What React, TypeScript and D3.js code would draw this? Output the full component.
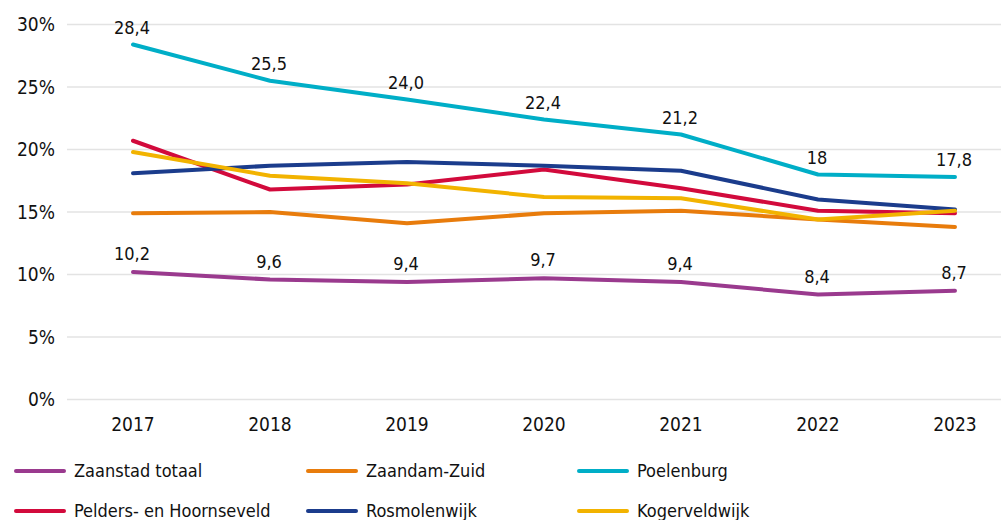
import { useEffect, useRef } from 'react';
import * as d3 from 'd3';

const years = ['2017', '2018', '2019', '2020', '2021', '2022', '2023'];

const zaanstadTotaal = [10.2, 9.6, 9.4, 9.7, 9.4, 8.4, 8.7];
const zaandamZuid = [14.9, 15.0, 14.1, 14.9, 15.1, 14.4, 13.8];
const poelenburg = [28.4, 25.5, 24.0, 22.4, 21.2, 18, 17.8];
const peldersHoornseveld = [20.7, 16.8, 17.2, 18.4, 16.9, 15.1, 14.9];
const rosmolenwijk = [18.1, 18.7, 19.0, 18.7, 18.3, 16.0, 15.2];
const kogerveldwijk = [19.8, 17.9, 17.3, 16.2, 16.1, 14.4, 15.1];

const poelenburgLabels = ['28,4', '25,5', '24,0', '22,4', '21,2', '18', '17,8'];
const totaalLabels = ['10,2', '9,6', '9,4', '9,7', '9,4', '8,4', '8,7'];

const yTicks = [0, 5, 10, 15, 20, 25, 30];

interface Series {
    name: string;
    values: number[];
    color: string;
}

// draw order: last on top
const series: Series[] = [
    { name: 'Zaanstad totaal', values: zaanstadTotaal, color: '#9a3a8e' },
    { name: 'Zaandam-Zuid', values: zaandamZuid, color: '#e87c0c' },
    { name: 'Poelenburg', values: poelenburg, color: '#00aec7' },
    { name: 'Pelders- en Hoornseveld', values: peldersHoornseveld, color: '#d20a3c' },
    { name: 'Rosmolenwijk', values: rosmolenwijk, color: '#1b3c8c' },
    { name: 'Kogerveldwijk', values: kogerveldwijk, color: '#f2b300' },
];

const drawOrder = [0, 1, 2, 3, 4, 5];
const FONT = "'DejaVu Sans Condensed', 'Roboto', sans-serif";

export default function App() {
    const svgRef = useRef<SVGSVGElement>(null);

    useEffect(() => {
        if (!svgRef.current) return;
        const svg = d3.select(svgRef.current);
        svg.selectAll('*').remove();

        const x = d3.scalePoint<string>().domain(years).range([64.5, 1023.5]).padding(0.5);
        const y = d3.scaleLinear().domain([0, 30]).range([399.5, 24.5]);

        // grid
        svg.append('g')
            .selectAll('line')
            .data(yTicks)
            .enter()
            .append('line')
            .attr('x1', 67)
            .attr('x2', 1001)
            .attr('y1', d => y(d))
            .attr('y2', d => y(d))
            .attr('stroke', '#e3e3e3')
            .attr('stroke-width', 1.5);

        // y labels
        svg.append('g')
            .selectAll('text')
            .data(yTicks)
            .enter()
            .append('text')
            .attr('x', 55)
            .attr('y', d => y(d))
            .attr('dy', '0.35em')
            .attr('text-anchor', 'end')
            .attr('font-size', 19)
            .attr('font-family', FONT)
            .attr('fill', '#111')
            .text(d => `${d}%`);

        // x labels
        svg.append('g')
            .selectAll('text')
            .data(years)
            .enter()
            .append('text')
            .attr('x', d => x(d)!)
            .attr('y', 431)
            .attr('text-anchor', 'middle')
            .attr('font-size', 19)
            .attr('font-family', FONT)
            .attr('fill', '#111')
            .text(d => d);

        const line = d3.line<number>()
            .x((_d, i) => x(years[i])!)
            .y(d => y(d));

        drawOrder.forEach(i => {
            const s = series[i];
            svg.append('path')
                .attr('d', line(s.values))
                .attr('fill', 'none')
                .attr('stroke', s.color)
                .attr('stroke-width', 4)
                .attr('stroke-linecap', 'round')
                .attr('stroke-linejoin', 'round');
        });

        // data labels
        const addLabels = (values: number[], labels: string[], off: number) => {
            svg.append('g')
                .selectAll('text')
                .data(values)
                .enter()
                .append('text')
                .attr('x', (_d, i) => x(years[i])! - 1)
                .attr('y', d => y(d) - off)
                .attr('text-anchor', 'middle')
                .attr('font-size', 18)
                .attr('font-family', FONT)
                .attr('fill', '#111')
                .text((_d, i) => labels[i]);
        };
        addLabels(poelenburg, poelenburgLabels, 11);
        addLabels(zaanstadTotaal, totaalLabels, 12);

        // legend
        const colX = [16, 308, 579];
        const rowY = [471, 511];
        const lg = svg.append('g')
            .selectAll('g')
            .data(series)
            .enter()
            .append('g')
            .attr('transform', (_d, i) => `translate(${colX[i % 3]},${rowY[Math.floor(i / 3)]})`);
        lg.append('line')
            .attr('x1', 0)
            .attr('x2', 48)
            .attr('stroke', d => d.color)
            .attr('stroke-width', 4)
            .attr('stroke-linecap', 'round');
        lg.append('text')
            .attr('x', 58)
            .attr('dy', '0.35em')
            .attr('font-size', 18)
            .attr('font-family', FONT)
            .attr('fill', '#111')
            .text(d => d.name);
    }, []);

    return (
        <svg
            ref={svgRef}
            width={1001}
            height={520}
            style={{ position: 'absolute', left: 0, top: 0, display: 'block', background: '#fff' }}
        />
    );
}
